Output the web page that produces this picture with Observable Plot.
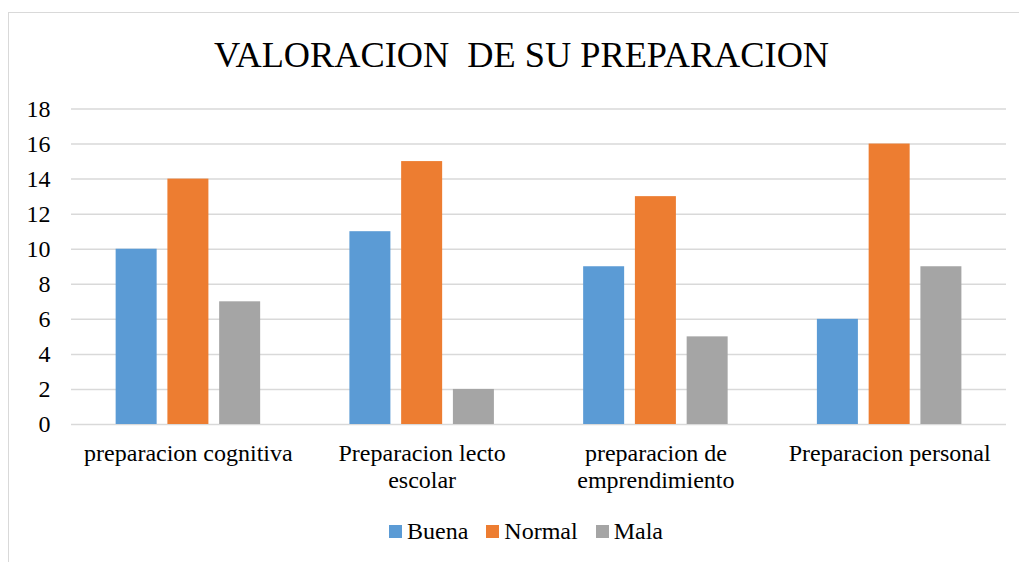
<!DOCTYPE html>
<html>
<head>
<meta charset="utf-8">
<script src="https://cdn.jsdelivr.net/npm/d3@7"></script>
<script src="https://cdn.jsdelivr.net/npm/@observablehq/plot@0.6"></script>
<style>
  html, body { margin: 0; padding: 0; background: #fff; }
  body { width: 1019px; height: 562px; position: relative; overflow: hidden; font-family: 'Liberation Serif', serif; }
  #frame { position: absolute; left: 8px; top: 12px; width: 1040px; height: 580px; border: 1px solid #d9d9d9; box-sizing: border-box; }
  #title { position: absolute; left: 0; width: 1043px; top: 37px; text-align: center; font-family: 'Liberation Serif', serif; font-size: 36.3px; line-height: 37px; color: #000; white-space: pre; }
  #chart { position: absolute; left: 0; top: 90px; }
  #legend { position: absolute; left: 0; width: 1052px; top: 519px; display: flex; justify-content: center; align-items: center; font-family: 'Liberation Serif', serif; font-size: 24px; line-height: 24px; color: #000; }
  .item { display: flex; align-items: center; margin: 0 9px; }
  .sw { width: 13px; height: 13px; margin-right: 5px; }
</style>
</head>
<body>
<div id="frame"></div>
<div id="title">VALORACION  DE SU PREPARACION</div>
<div id="chart"></div>
<div id="legend"></div>
<script>
const categories = ["preparacion cognitiva", "Preparacion lecto escolar", "preparacion de emprendimiento", "Preparacion personal"];
const categoryLabels = ["preparacion cognitiva", "Preparacion lecto\nescolar", "preparacion de\nemprendimiento", "Preparacion personal"];
const series = ["Buena", "Normal", "Mala"];
const colors = ["#5b9bd5", "#ed7d31", "#a5a5a5"];
const buena = [10, 11, 9, 6];
const normal = [14, 15, 13, 16];
const mala = [7, 2, 5, 9];
const yTicks = [0, 2, 4, 6, 8, 10, 12, 14, 16, 18];

// clustered layout (fractions of one category slot)
const groupOffset = 0.191;   // outer gap before first bar
const barStep = 0.2214;      // distance between neighbouring bars
const barWidth = 0.1754;     // width of a bar

const values = [buena, normal, mala];
const data = [];
categories.forEach((c, i) => {
  series.forEach((s, j) => data.push({ci: i, sj: j, category: c, serie: s, value: values[j][i]}));
});

const font = "'Liberation Serif', serif";
const chart = Plot.plot({
  width: 1019,
  height: 414,
  marginLeft: 71,
  marginRight: 13,
  marginTop: 18.5,
  marginBottom: 80,
  style: {fontFamily: font, fontSize: "24px", color: "#000", background: "transparent"},
  x: {type: "linear", domain: [0, categories.length], axis: null},
  y: {domain: [0, 18], label: null, axis: null},
  color: {domain: series, range: colors},
  marks: [
    Plot.gridY(yTicks, {stroke: "#d9d9d9", strokeOpacity: 1, strokeWidth: 1.5}),
    Plot.axisY(yTicks, {tickSize: 0, tickPadding: 21, fontSize: 24, fontFamily: font, label: null}),
    Plot.axisX(categories.map((c, i) => i + 0.5), {
      tickSize: 0, tickPadding: 17, fontSize: 24, fontFamily: font, lineHeight: 1.14,
      tickFormat: d => categoryLabels[Math.floor(d)], label: null
    }),
    Plot.rectY(data, {
      x1: d => d.ci + groupOffset + d.sj * barStep,
      x2: d => d.ci + groupOffset + d.sj * barStep + barWidth,
      y: "value",
      fill: "serie"
    })
  ]
});
document.getElementById("chart").appendChild(chart);

const legend = document.getElementById("legend");
series.forEach((s, j) => {
  const item = document.createElement("div");
  item.className = "item";
  const sw = document.createElement("div");
  sw.className = "sw";
  sw.style.background = colors[j];
  const t = document.createElement("span");
  t.textContent = s;
  item.appendChild(sw);
  item.appendChild(t);
  legend.appendChild(item);
});
</script>
</body>
</html>
